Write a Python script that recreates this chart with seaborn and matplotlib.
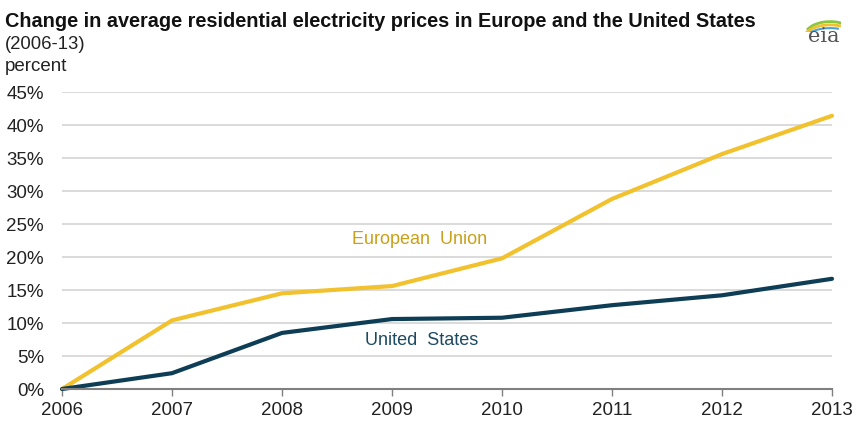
import numpy as np
import pandas as pd
import matplotlib.pyplot as plt
import seaborn as sns
from matplotlib.patches import Arc

# values (percent change since 2006)
years = [2006, 2007, 2008, 2009, 2010, 2011, 2012, 2013]
eu_change = [0, 10.4, 14.5, 15.6, 19.8, 28.8, 35.6, 41.4]
us_change = [0, 2.4, 8.5, 10.6, 10.8, 12.7, 14.2, 16.7]
y_ticks = [0, 5, 10, 15, 20, 25, 30, 35, 40, 45]

eu_color = '#F2C12E'
us_color = '#0E3D56'

data = pd.DataFrame({
    'year': years * 2,
    'change': eu_change + us_change,
    'region': ['European Union'] * len(years) + ['United States'] * len(years),
})

sns.set_theme(style="white")
plt.rcParams['font.family'] = ['Liberation Sans', 'DejaVu Sans']

fig = plt.figure(figsize=(8.58, 4.32), dpi=100)
ax = fig.add_axes([0.0723, 0.0995, 0.8974, 0.6875])

sns.lineplot(data=data, x='year', y='change', hue='region',
             palette={'European Union': eu_color, 'United States': us_color},
             linewidth=3, legend=False, ax=ax, clip_on=False)

ax.set_xlim(2006, 2013)
ax.set_ylim(0, 45)
ax.set_xticks(years)
ax.set_xticklabels([str(y) for y in years], fontsize=13.5, color='#222222')
ax.set_yticks(y_ticks)
ax.set_yticklabels([f'{t}%' for t in y_ticks], fontsize=13.5, color='#222222')
ax.set_xlabel('')
ax.set_ylabel('')

# light horizontal grid only
for t in y_ticks[1:]:
    ax.axhline(t, color='#d4d4d4', lw=1.2, zorder=0)

sns.despine(ax=ax, left=True, top=True, right=True)
ax.spines['bottom'].set_color('#808080')
ax.spines['bottom'].set_linewidth(1.5)
ax.tick_params(axis='x', which='major', direction='out', length=5, width=1,
               color='#808080', pad=4, bottom=True)
ax.tick_params(axis='y', length=0, pad=13)

ax.text(2009.25, 22.6, 'European  Union', color='#C9A01A', fontsize=13,
        ha='center', va='center')
ax.text(2009.27, 7.3, 'United  States', color='#1C4A62', fontsize=13,
        ha='center', va='center')

fig.text(0.006, 0.951, 'Change in average residential electricity prices in Europe and the United States',
         fontsize=14.3, fontweight='bold', color='#111111', va='center')
fig.text(0.006, 0.898, '(2006-13)', fontsize=13.3, color='#222222', va='center')
fig.text(0.006, 0.845, 'percent', fontsize=13.5, color='#222222', va='center')

# small eia mark
fig.text(0.978, 0.915, 'eia', family='DejaVu Serif', fontsize=15, color='#555555',
         ha='right', va='center')
logo = fig.add_axes([0.93, 0.925, 0.05, 0.05])
logo.set_xlim(0, 1)
logo.set_ylim(0, 1)
logo.axis('off')
logo.add_patch(Arc((0.75, -0.2), 1.2, 1.4, theta1=60, theta2=150, color='#8CC63F', lw=2))
logo.add_patch(Arc((0.75, -0.4), 1.3, 1.5, theta1=70, theta2=150, color='#F2C12E', lw=2))
logo.add_patch(Arc((0.75, -0.6), 1.4, 1.6, theta1=75, theta2=150, color='#4BA3D9', lw=1.5))

fig.savefig('out.png', dpi=100)
